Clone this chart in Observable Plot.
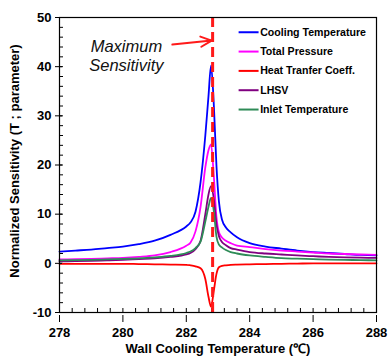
<!DOCTYPE html>
<html>
<head>
<meta charset="utf-8">
<script src="https://cdn.jsdelivr.net/npm/d3@7"></script>
<script src="https://cdn.jsdelivr.net/npm/@observablehq/plot@0.6"></script>
<style>
  html, body { margin: 0; padding: 0; background: #fff; }
  svg { font-family: "Liberation Sans", Arial, sans-serif; }
</style>
</head>
<body>
<div id="chart"></div>
<script>
// Wall cooling temperature samples (°C)
const temps = [278, 278.5, 279, 279.5, 280, 280.5, 281, 281.5, 282, 282.13, 282.29, 282.45, 282.6, 282.7, 282.78, 282.87, 282.95, 283.03, 283.13, 283.25, 283.4, 283.6, 284, 284.5, 285, 285.5, 286, 286.5, 287, 287.5, 288];

const coolingTemperature = [2.4, 2.6, 2.8, 3.1, 3.4, 3.9, 4.6, 5.8, 7.5, 8.3, 10.5, 16.5, 26, 34, 40.2, 32, 20, 12.5, 8.8, 7.3, 6.3, 5.3, 4.1, 3.4, 3.0, 2.6, 2.3, 2.1, 1.9, 1.7, 1.6];
const totalPressure      = [0.8, 0.85, 0.9, 1.0, 1.1, 1.3, 1.6, 2.3, 3.6, 4.2, 6.5, 11.5, 19.5, 23, 24.2, 17.5, 9.5, 6.3, 5.2, 4.6, 4.1, 3.6, 3.3, 2.9, 2.6, 2.4, 2.2, 2.0, 1.9, 1.8, 1.7];
const heatTransfer       = [-0.1, -0.1, -0.1, -0.1, -0.1, -0.15, -0.2, -0.25, -0.3, -0.4, -0.6, -1.0, -3.2, -6.8, -8.8, -5.5, -2.2, -0.8, -0.5, -0.4, -0.3, -0.25, -0.2, -0.15, -0.1, -0.05, 0, 0, 0, 0, 0];
const lhsv               = [0.4, 0.45, 0.5, 0.6, 0.7, 0.85, 1.0, 1.3, 1.8, 2.1, 2.9, 4.6, 10, 14, 15.7, 13, 8, 5.5, 4.3, 3.7, 3.1, 2.8, 2.3, 2.0, 1.8, 1.6, 1.45, 1.3, 1.2, 1.15, 1.1];
const inletTemperature   = [0.6, 0.65, 0.7, 0.8, 0.9, 1.0, 1.2, 1.5, 2.1, 2.4, 3.1, 4.4, 8.5, 11.5, 13.3, 10.5, 5.5, 3.8, 3.2, 2.7, 2.3, 2.0, 1.6, 1.3, 1.05, 0.95, 0.85, 0.75, 0.7, 0.65, 0.6];

const seriesNames  = ["Cooling Temperature", "Total Pressure", "Heat Tranfer Coeff.", "LHSV", "Inlet Temperature"];
const seriesValues = [coolingTemperature, totalPressure, heatTransfer, lhsv, inletTemperature];
const seriesColors = ["#0000ff", "#ff00ff", "#ff0000", "#800080", "#2e8b57"];

const xTicks = [278, 280, 282, 284, 286, 288];
const yTicks = [-10, 0, 10, 20, 30, 40, 50];
const xMinor = d3.range(278, 288.001, 0.4).map(v => +v.toFixed(2));
const yMinor = d3.range(-10, 50.001, 2);

const maxSensitivityT = 282.83;
const annotationText = "Maximum\nSensitivity";
const xLabel = "Wall Cooling Temperature (\u2103)";
const yLabel = "Normalized Sensitivity (T ; parameter)";

// long table built from arrays
const rows = [];
seriesNames.forEach((name, s) => {
  temps.forEach((t, i) => rows.push({series: name, t, v: seriesValues[s][i]}));
});
const legendRows = seriesNames.map((name, i) => ({name, color: seriesColors[i], i}));

const font = "'Liberation Sans', Arial, sans-serif";
const legendY = i => 47.0 - i * 3.93;

const chart = Plot.plot({
  width: 388,
  height: 356,
  marginLeft: 59,
  marginRight: 12,
  marginTop: 17,
  marginBottom: 44,
  style: {fontFamily: font, background: "#fff", overflow: "visible"},
  x: {domain: [278, 288]},
  y: {domain: [-10, 50]},
  color: {domain: seriesNames, range: seriesColors},
  marks: [
    // minor inward ticks
    Plot.ruleX(xMinor, {x: d => d, y1: -10, y2: -10 + 4 / 4.92, stroke: "#000", strokeWidth: 1}),
    Plot.ruleY(yMinor, {y: d => d, x1: 278, x2: 278 + 4 / 31.7, stroke: "#000", strokeWidth: 1}),
    // curves
    Plot.line(rows, {x: "t", y: "v", z: "series", stroke: "series", strokeWidth: 1.8, curve: "monotone-x"}),
    // dashed vertical line of maximum sensitivity
    Plot.ruleX([maxSensitivityT], {stroke: "#ff1a1a", strokeWidth: 3, strokeDasharray: "10,5"}),
    // arrow
    Plot.arrow([{x1: 281.56, y1: 44.5, x2: 282.8, y2: 45.3}], {x1: "x1", y1: "y1", x2: "x2", y2: "y2", stroke: "#ff1a1a", strokeWidth: 2, headLength: 9, headAngle: 50}),
    Plot.text([annotationText], {x: 280.11, y: 42.3, text: d => d, fontSize: 16.5, fontStyle: "italic", lineHeight: 1.18, fill: "#111", textAnchor: "middle"}),
    // legend
    Plot.link(legendRows, {x1: 283.65, x2: 284.28, y1: d => legendY(d.i), y2: d => legendY(d.i), stroke: "color", strokeWidth: 2}),
    Plot.text(legendRows, {x: 284.33, y: d => legendY(d.i), text: "name", textAnchor: "start", fontSize: 10.6, fontWeight: "bold", fill: "#000"}),
    // frame
    Plot.frame({stroke: "#000", strokeWidth: 1.2}),
    // axes
    Plot.axisX({ticks: xTicks, tickSize: 7, tickFormat: d => d, tickPadding: 5, fontSize: 13, fontWeight: "bold", fill: "#000", dy: 3, label: null}),
    Plot.axisY({ticks: yTicks, tickSize: 7, tickFormat: d => d, tickPadding: 4, fontSize: 13, fontWeight: "bold", fill: "#000", dx: 3, label: null}),
    Plot.text([xLabel], {frameAnchor: "bottom", dy: 36.5, text: d => d, fontSize: 13, fontWeight: "bold", fill: "#000", lineAnchor: "middle"}),
    Plot.text([yLabel], {frameAnchor: "left", dx: -45, dy: -4, rotate: -90, textAnchor: "middle", text: d => d, fontSize: 13, fontWeight: "bold", fill: "#000"})
  ]
});
document.getElementById("chart").appendChild(chart);
</script>
</body>
</html>
